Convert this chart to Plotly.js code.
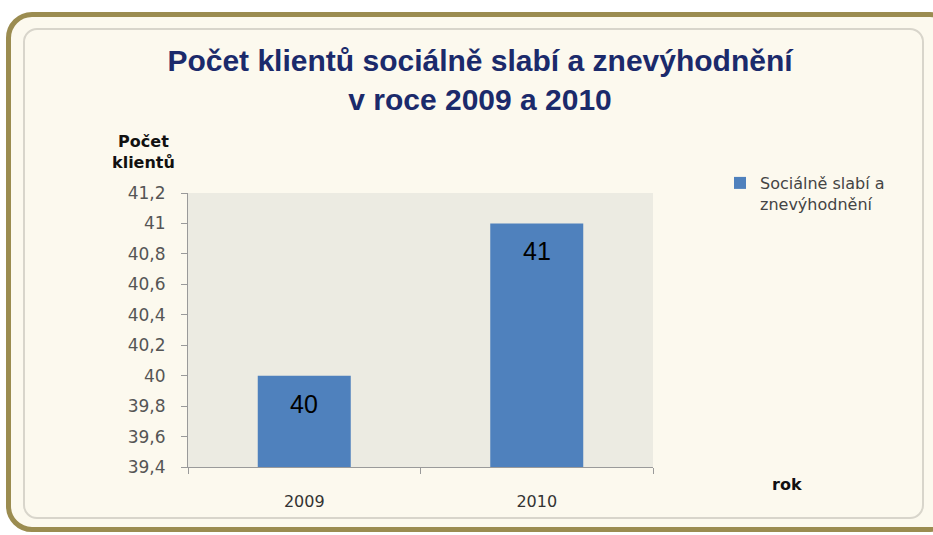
<!DOCTYPE html>
<html>
<head>
<meta charset="utf-8">
<script src="https://cdn.plot.ly/plotly-3.0.1.min.js"></script>
<style>
html,body{margin:0;padding:0;background:#ffffff;}
#wrap{position:relative;width:933px;height:535px;overflow:hidden;background:#ffffff;}
#outer{position:absolute;left:6px;top:12px;width:940px;height:510px;border:5px solid #9b8c50;border-radius:26px;background:#fcf9ee;}
#inner{position:absolute;left:23px;top:28px;width:897px;height:487px;border:2px solid #d8d5cb;border-radius:14px;background:#fcf9ee;}
#chart{position:absolute;left:0;top:0;width:933px;height:535px;}
</style>
</head>
<body>
<div id="wrap">
<div id="outer"></div>
<div id="inner"></div>
<div id="chart"></div>
</div>
<script>
const categories = ["2009", "2010"];
const values = [40, 41];
const seriesName = "Sociálně slabí a<br>znevýhodnění";
const yTickVals = [39.4, 39.6, 39.8, 40, 40.2, 40.4, 40.6, 40.8, 41, 41.2];
const yTickText = ["39,4", "39,6", "39,8", "40", "40,2", "40,4", "40,6", "40,8", "41", "41,2"];
const chartTitle = "Počet klientů sociálně slabí a znevýhodnění<br>v roce 2009 a 2010";
const yTitle = "Počet<br>klientů";
const xTitle = "rok";

const W = 933, H = 535;
const L = 188, R = W - 653, T = 193, B = H - 467;
const pw = W - L - R, ph = H - T - B;
const px = v => (v - L) / pw;
const py = v => (H - B - v) / ph;

const font = "Arial, 'Liberation Sans', sans-serif";
const wide = "'DejaVu Sans', Verdana, sans-serif";

const trace = {
  type: "bar",
  x: categories,
  y: values,
  name: seriesName,
  marker: {color: "#4f81bd"},
  showlegend: true,
  hoverinfo: "none"
};

const dataLabels = categories.map((c, i) => ({
  x: i, y: values[i], xref: "x", yref: "y",
  text: String(values[i]),
  showarrow: false, yanchor: "middle", yshift: -28,
  font: {family: font, size: 25, color: "#000000"}
}));

const layout = {
  width: W, height: H,
  margin: {l: L, r: R, t: T, b: B, pad: 0},
  paper_bgcolor: "rgba(0,0,0,0)",
  plot_bgcolor: "#ecebe2",
  separators: ", ",
  bargap: 0.6,
  title: {
    text: chartTitle,
    font: {family: font, size: 30, color: "#1b2a6b", weight: "bold"},
    x: 480 / W, xanchor: "center", xref: "container",
    y: 1 - 71 / H, yanchor: "top", yref: "container"
  },
  xaxis: {
    type: "category",
    range: [-0.5, 1.5],
    showline: true, linecolor: "#9a9a9a", linewidth: 1,
    ticks: "outside", tickson: "boundaries", ticklen: 6, tickcolor: "#9a9a9a",
    tickfont: {family: wide, size: 16, color: "#333333"},
    ticklabelstandoff: 20,
    showgrid: false, zeroline: false, fixedrange: true
  },
  yaxis: {
    range: [39.4, 41.2],
    tickmode: "array", tickvals: yTickVals, ticktext: yTickText,
    showline: true, linecolor: "#9a9a9a", linewidth: 1,
    ticks: "outside", ticklen: 6, tickcolor: "#9a9a9a",
    tickfont: {family: wide, size: 17, color: "#555555"},
    ticklabelstandoff: 12,
    showgrid: false, zeroline: false, fixedrange: true
  },
  legend: {
    x: px(720), y: py(166), xanchor: "left", yanchor: "top",
    valign: "top",
    bgcolor: "rgba(0,0,0,0)",
    font: {family: wide, size: 16, color: "#444444"},
    itemclick: false
  },
  annotations: [
    ...dataLabels,
    {
      text: yTitle, xref: "paper", yref: "paper",
      x: px(143), y: py(130), xanchor: "center", yanchor: "top",
      showarrow: false, align: "center",
      font: {family: wide, size: 16, color: "#111111", weight: "bold"}
    },
    {
      text: xTitle, xref: "paper", yref: "paper",
      x: px(770), y: py(484), xanchor: "left", yanchor: "middle",
      showarrow: false,
      font: {family: wide, size: 16, color: "#111111", weight: "bold"}
    }
  ]
};

Plotly.newPlot("chart", [trace], layout, {displayModeBar: false, staticPlot: true});
</script>
</body>
</html>
